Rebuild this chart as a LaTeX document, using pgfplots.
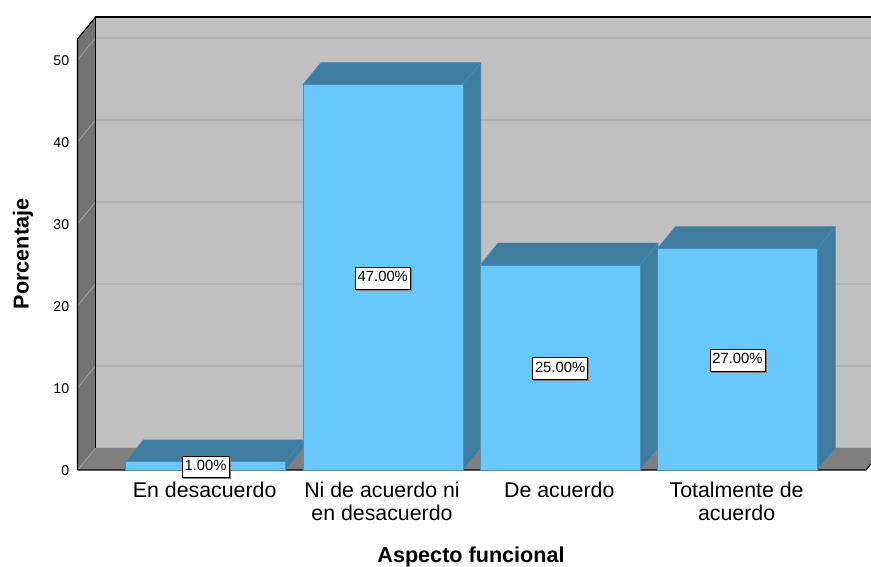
\documentclass[border=0pt]{standalone}
\usepackage{fontspec}
\setmainfont{Liberation Sans}
\usepackage{pgfplots}
\pgfplotsset{compat=1.18}
\usetikzlibrary{shadows}

\definecolor{wallback}{HTML}{C0C0C0}
\definecolor{wallleft}{HTML}{737373}
\definecolor{wallfloor}{HTML}{7F7F7F}
\definecolor{gridback}{HTML}{B3B3B3}
\definecolor{gridleft}{HTML}{A0A0A0}
\definecolor{barfront}{HTML}{66C8FF}
\definecolor{barside}{HTML}{3E7CA0}
\definecolor{baredge}{HTML}{4F8DB3}

\begin{document}
\begin{tikzpicture}
\useasboundingbox (0,0) rectangle (653.25pt,425.25pt);
\begin{axis}[
  at={(56.4pt,71.25pt)},
  anchor=south west,
  scale only axis,
  width=596.85pt,
  height=343.5pt,
  xmin=-0.735, xmax=3.7535,
  ymin=-0.25, ymax=55.61,
  axis line style={draw=none},
  major tick length=0pt,
  ytick={0,10,20,30,40,50},
  xtick={0,1,2,3},
  xticklabels={En desacuerdo,{Ni de acuerdo ni\\en desacuerdo},De acuerdo,{Totalmente de\\acuerdo}},
  /pgf/number format/assume math mode=true,
  yticklabel style={font=\fontsize{10.6}{12}\selectfont,xshift=-1pt,yshift=-0.7pt},
  xticklabel style={font=\fontsize{16}{17.4}\selectfont,align=center,yshift=-4.2pt,xshift=-0.6pt},
  xlabel={Aspecto funcional},
  ylabel={Porcentaje},
  xlabel style={font=\fontsize{16.2}{18}\selectfont\bfseries,at={(axis description cs:0.4974,-0.1850)},anchor=center},
  ylabel style={font=\fontsize{16.2}{18}\selectfont\bfseries,at={(axis description cs:-0.0655,0.476)},anchor=center},
]
% walls and floor
\addplot[fill=wallback,draw=none] coordinates {(-0.6205,2.683) (3.827,2.683) (3.827,55.24) (-0.6205,55.24)} -- cycle;
\addplot[fill=wallleft,draw=none] coordinates {(-0.722,0) (-0.6205,2.683) (-0.6205,55.24) (-0.722,52.557)} -- cycle;
\addplot[fill=wallfloor,draw=none] coordinates {(-0.722,0) (3.7253,0) (3.827,2.683) (-0.6205,2.683)} -- cycle;
% grid lines
\addplot[gridback,line width=1pt] coordinates {(-0.6205,12.683) (3.827,12.683)};
\addplot[gridback,line width=1pt] coordinates {(-0.6205,22.683) (3.827,22.683)};
\addplot[gridback,line width=1pt] coordinates {(-0.6205,32.683) (3.827,32.683)};
\addplot[gridback,line width=1pt] coordinates {(-0.6205,42.683) (3.827,42.683)};
\addplot[gridback,line width=1pt] coordinates {(-0.6205,52.683) (3.827,52.683)};
\addplot[gridleft,line width=0.6pt] coordinates {(-0.722,0) (-0.6205,2.683)};
\addplot[gridleft,line width=0.6pt] coordinates {(-0.722,10) (-0.6205,12.683)};
\addplot[gridleft,line width=0.6pt] coordinates {(-0.722,20) (-0.6205,22.683)};
\addplot[gridleft,line width=0.6pt] coordinates {(-0.722,30) (-0.6205,32.683)};
\addplot[gridleft,line width=0.6pt] coordinates {(-0.722,40) (-0.6205,42.683)};
\addplot[gridleft,line width=0.6pt] coordinates {(-0.722,50) (-0.6205,52.683)};
% frame
\addplot[black,line width=0.9pt] coordinates {(-0.6205,2.683) (-0.6205,55.24) (3.827,55.24)};
\addplot[black,line width=0.9pt] coordinates {(-0.722,0) (-0.722,52.557) (-0.6205,55.24)};
\addplot[black,line width=0.9pt] coordinates {(-0.722,0) (3.7253,0) (3.827,2.683)};
% bar sides
\addplot[fill=barside,draw=baredge,line width=0.3pt] coordinates {(0.4512,0) (0.5527,2.683) (0.5527,3.683) (0.4512,1)} -- cycle;
\addplot[fill=barside,draw=baredge,line width=0.3pt] coordinates {(1.4512,0) (1.5527,2.683) (1.5527,49.683) (1.4512,47)} -- cycle;
\addplot[fill=barside,draw=baredge,line width=0.3pt] coordinates {(2.4512,0) (2.5527,2.683) (2.5527,27.683) (2.4512,25)} -- cycle;
\addplot[fill=barside,draw=baredge,line width=0.3pt] coordinates {(3.4512,0) (3.5527,2.683) (3.5527,29.683) (3.4512,27)} -- cycle;
% bar tops
\addplot[fill=barside,draw=baredge,line width=0.3pt] coordinates {(-0.4512,1) (0.4512,1) (0.5527,3.683) (-0.3497,3.683)} -- cycle;
\addplot[fill=barside,draw=baredge,line width=0.3pt] coordinates {(0.5488,47) (1.4512,47) (1.5527,49.683) (0.6503,49.683)} -- cycle;
\addplot[fill=barside,draw=baredge,line width=0.3pt] coordinates {(1.5488,25) (2.4512,25) (2.5527,27.683) (1.6503,27.683)} -- cycle;
\addplot[fill=barside,draw=baredge,line width=0.3pt] coordinates {(2.5488,27) (3.4512,27) (3.5527,29.683) (2.6503,29.683)} -- cycle;
% bar fronts
\addplot[ybar,bar shift=0pt,bar width=120pt,fill=barfront,draw=baredge,line width=0.4pt]
  coordinates {(0,1) (1,47) (2,25) (3,27)};
% value labels at mid height
\addplot[only marks,mark=none,point meta=explicit symbolic,
  nodes near coords,
  every node near coord/.style={anchor=center,yshift=-0.7pt,font=\fontsize{11.1}{12}\selectfont,fill=white,draw=black,line width=0.4pt,
    inner xsep=1.8pt,inner ysep=2.8pt,text height=8pt,text depth=2.5pt,
    copy shadow={shadow xshift=0.8pt,shadow yshift=-0.8pt,fill=gray,draw=gray}}]
  coordinates {(0,0.5)[1.00\%] (1,23.5)[47.00\%] (2,12.5)[25.00\%] (3,13.5)[27.00\%]};
\end{axis}
\end{tikzpicture}
\end{document}
